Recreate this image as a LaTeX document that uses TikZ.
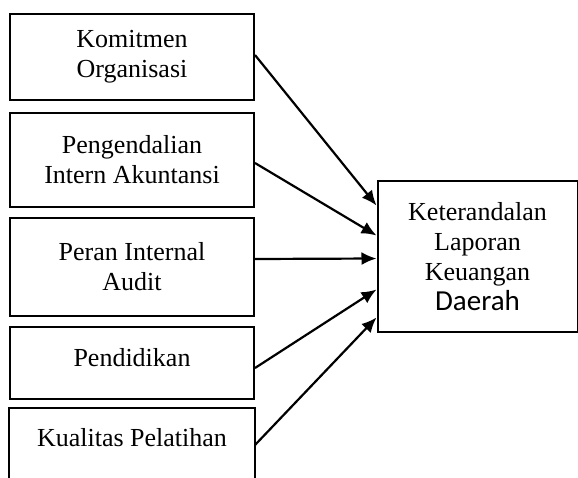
\documentclass[tikz,border=0pt]{standalone}
\usepackage{fontspec}
\setmainfont{Liberation Serif}
\newfontfamily\carlito{Carlito}
\usetikzlibrary{arrows.meta,positioning}

\begin{document}
\begin{tikzpicture}[x=1pt,y=-1pt,
    lbox/.style={draw,line width=2pt,minimum width=244pt,align=center,
      inner sep=0pt,font=\fontsize{26}{30}\selectfont},
    link/.style={line width=2.2pt,-{Latex[length=15pt,width=13pt]}}]
  \useasboundingbox (0,0) rectangle (578,477);
  \clip (0,0) rectangle (578,477);
  \node[lbox,minimum height=86pt] (b1) at (132,57) {Komitmen\\Organisasi};
  \node[lbox,minimum height=94pt] (b2) at (132,160) {Pengendalian\\Intern Akuntansi};
  \node[lbox,minimum height=98pt] (b3) at (132,267) {Peran Internal\\Audit};
  \node[lbox,minimum height=72pt,text depth=12pt] (b4) at (132,363) {Pendidikan};
  \node[lbox,draw=none,minimum height=58pt] (b5) at (132,438) {Kualitas Pelatihan};
  % last box runs off the page
  \draw[line width=2pt] ([yshift=-30pt]b5.south west) -- (b5.north west)
    -- (b5.north east) -- ([yshift=-30pt]b5.south east);
  \node[lbox,minimum width=200pt,minimum height=151pt] (r) at (477.5,256.5)
    {Keterandalan\\Laporan\\Keuangan\\{\carlito\fontsize{29}{30}\selectfont Daerah}};
  \foreach \src/\dy/\sy in {b1/51/2,b2/21/-3,b3/-2/8,b4/-33/-5,b5/-61/-7}{
    \draw[link] ([yshift=\sy pt]\src.east) -- ([yshift=\dy pt]r.west);
  }
\end{tikzpicture}
\end{document}
